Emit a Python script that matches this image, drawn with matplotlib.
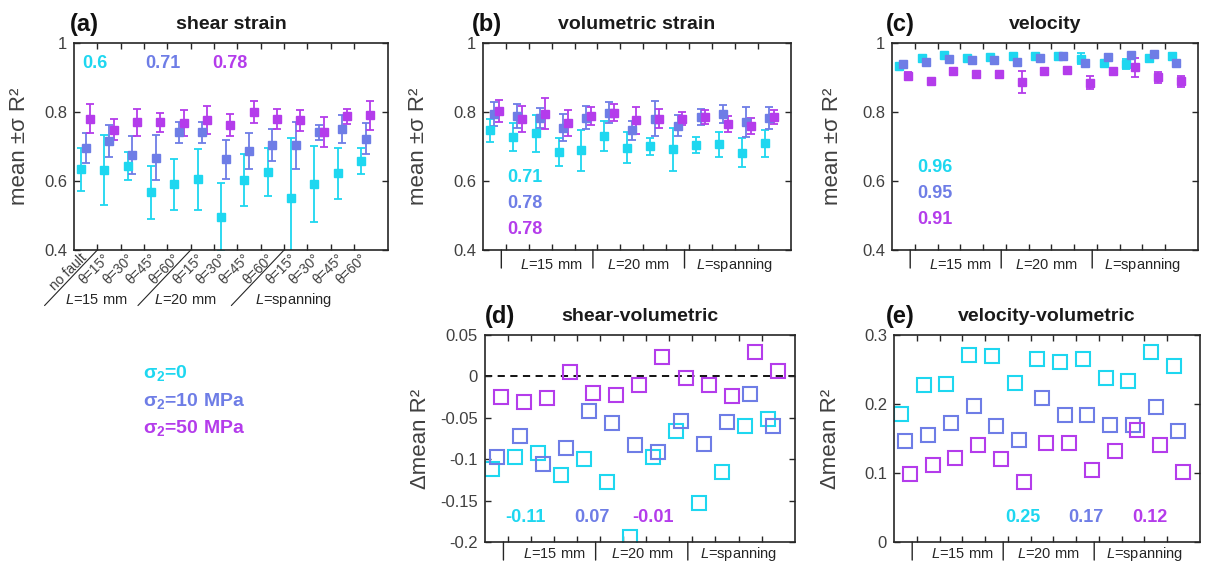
import numpy as np
import matplotlib
matplotlib.use("Agg")
from matplotlib import pyplot as plt
from matplotlib.ticker import FixedLocator, FuncFormatter

plt.rcParams["font.family"] = ["Liberation Sans", "DejaVu Sans"]
plt.rcParams["mathtext.fontset"] = "custom"
plt.rcParams["mathtext.rm"] = "Liberation Sans"
plt.rcParams["mathtext.it"] = "Liberation Sans:italic"
plt.rcParams["mathtext.bf"] = "Liberation Sans:bold"

CYAN = "#1ed7f0"
BLUE = "#6e7de6"
MAGENTA = "#b43ceb"
COLORS = [CYAN, BLUE, MAGENTA]
DARK = "#262626"
GRAY = "#404040"

# categories along x
categories = ["no fault",
              "θ=15°", "θ=30°", "θ=45°", "θ=60°",
              "θ=15°", "θ=30°", "θ=45°", "θ=60°",
              "θ=15°", "θ=30°", "θ=45°", "θ=60°"]
groups = [r"$\mathit{L}$=15 mm", r"$\mathit{L}$=20 mm", r"$\mathit{L}$=spanning"]
stress_labels = [r"$\mathbf{\sigma_2}$=0", r"$\mathbf{\sigma_2}$=10 MPa", r"$\mathbf{\sigma_2}$=50 MPa"]

# (a) shear strain, mean and std of R^2
shear_c = [0.634, 0.632, 0.644, 0.567, 0.591, 0.605, 0.496, 0.603, 0.627, 0.551, 0.590, 0.622, 0.658]
shear_c_err = [0.063, 0.102, 0.041, 0.077, 0.074, 0.088, 0.099, 0.076, 0.070, 0.174, 0.110, 0.073, 0.039]
shear_b = [0.696, 0.716, 0.675, 0.668, 0.741, 0.741, 0.663, 0.687, 0.705, 0.703, 0.741, 0.750, 0.723]
shear_b_err = [0.043, 0.046, 0.055, 0.065, 0.031, 0.030, 0.057, 0.052, 0.046, 0.067, 0.021, 0.040, 0.046]
shear_m = [0.781, 0.749, 0.770, 0.770, 0.767, 0.777, 0.763, 0.800, 0.780, 0.776, 0.742, 0.787, 0.791]
shear_m_err = [0.043, 0.030, 0.039, 0.028, 0.038, 0.041, 0.032, 0.031, 0.029, 0.031, 0.044, 0.022, 0.042]
shear_avg = ["0.6", "0.71", "0.78"]

# (b) volumetric strain
vol_c = [0.747, 0.728, 0.738, 0.684, 0.689, 0.730, 0.696, 0.701, 0.692, 0.704, 0.706, 0.682, 0.709]
vol_c_err = [0.033, 0.041, 0.053, 0.041, 0.059, 0.043, 0.045, 0.025, 0.062, 0.024, 0.037, 0.042, 0.040]
vol_b = [0.794, 0.789, 0.784, 0.755, 0.784, 0.798, 0.747, 0.781, 0.760, 0.786, 0.795, 0.771, 0.783]
vol_b_err = [0.034, 0.035, 0.029, 0.040, 0.034, 0.030, 0.028, 0.050, 0.030, 0.023, 0.026, 0.044, 0.032]
vol_m = [0.803, 0.779, 0.795, 0.767, 0.788, 0.798, 0.776, 0.781, 0.781, 0.786, 0.765, 0.759, 0.786]
vol_m_err = [0.032, 0.037, 0.045, 0.038, 0.027, 0.025, 0.039, 0.027, 0.020, 0.021, 0.024, 0.023, 0.021]
vol_avg = ["0.71", "0.78", "0.78"]

# (c) velocity
vel_c = [0.933, 0.956, 0.966, 0.957, 0.960, 0.962, 0.962, 0.962, 0.955, 0.942, 0.940, 0.956, 0.962]
vel_c_err = [0.006, 0.005, 0.004, 0.006, 0.004, 0.004, 0.004, 0.003, 0.017, 0.006, 0.014, 0.006, 0.003]
vel_b = [0.940, 0.944, 0.955, 0.952, 0.952, 0.946, 0.956, 0.962, 0.942, 0.958, 0.964, 0.968, 0.942]
vel_b_err = [0.006, 0.004, 0.004, 0.008, 0.004, 0.004, 0.003, 0.003, 0.004, 0.004, 0.003, 0.004, 0.006]
vel_m = [0.905, 0.890, 0.920, 0.909, 0.909, 0.887, 0.919, 0.922, 0.885, 0.918, 0.929, 0.900, 0.889]
vel_m_err = [0.010, 0.006, 0.008, 0.005, 0.010, 0.032, 0.006, 0.008, 0.018, 0.006, 0.027, 0.017, 0.016]
vel_avg = ["0.96", "0.95", "0.91"]

# (d) shear - volumetric difference of mean R^2
sv_c = [-0.112, -0.097, -0.093, -0.119, -0.100, -0.127, -0.194, -0.097, -0.066, -0.153, -0.116, -0.060, -0.051]
sv_b = [-0.097, -0.072, -0.106, -0.086, -0.042, -0.056, -0.083, -0.091, -0.054, -0.082, -0.055, -0.021, -0.060]
sv_m = [-0.025, -0.031, -0.026, 0.005, -0.020, -0.023, -0.010, 0.023, -0.002, -0.010, -0.024, 0.029, 0.006]
sv_avg = ["-0.11", "0.07", "-0.01"]

# (e) velocity - volumetric
vv_c = [0.185, 0.227, 0.229, 0.271, 0.270, 0.230, 0.265, 0.261, 0.265, 0.237, 0.233, 0.275, 0.255]
vv_b = [0.146, 0.155, 0.173, 0.197, 0.168, 0.148, 0.209, 0.184, 0.184, 0.170, 0.169, 0.196, 0.161]
vv_m = [0.098, 0.111, 0.122, 0.141, 0.121, 0.087, 0.144, 0.143, 0.104, 0.132, 0.162, 0.141, 0.102]
vv_avg = ["0.25", "0.17", "0.12"]

W, H = 1207, 564
fig = plt.figure(figsize=(W / 100, H / 100), dpi=100)

x = np.arange(len(categories))
offsets = [0.3, 0.5, 0.7]


def make_axes(left, right, top, bottom):
    return fig.add_axes([left / W, 1 - bottom / H, (right - left) / W, (bottom - top) / H])


def fmt(v, pos):
    if abs(v) < 1e-9:
        return "0"
    return "%g" % round(v, 3)


def setup(ax, ylim, yticks, ylabel, label_x, title, letter, letter_x):
    ax.set_xlim(0, 13.45)
    ax.set_ylim(*ylim)
    ax.xaxis.set_major_locator(FixedLocator(range(1, 13)))
    ax.set_xticklabels([])
    ax.yaxis.set_major_locator(FixedLocator(yticks))
    ax.yaxis.set_major_formatter(FuncFormatter(fmt))
    ax.tick_params(direction="in", top=True, right=True, length=4, width=1.0,
                   color=DARK, labelsize=12, labelcolor=GRAY, pad=5)
    for sp in ax.spines.values():
        sp.set_linewidth(1.2)
        sp.set_color(DARK)
    ax.set_ylabel(ylabel, fontsize=16, color=GRAY, va="center")
    ax.yaxis.set_label_coords(label_x, 0.5)
    ax.text(0.5, 1.09, title, transform=ax.transAxes, ha="center", va="center",
            fontsize=14, fontweight="bold", color="#1a1a1a")
    ax.text(letter_x, 1.09, letter, transform=ax.transAxes, ha="left", va="center",
            fontsize=17, fontweight="bold", color="#111111")


def group_marks(ax, label_y):
    tr = ax.get_xaxis_transform()
    for xv in [0.8, 4.8, 8.8]:
        ax.annotate("", xy=(xv, 0), xycoords=tr, xytext=(0, -13), textcoords="offset points",
                    arrowprops=dict(arrowstyle="-", color=DARK, lw=1.0, shrinkA=0, shrinkB=0),
                    annotation_clip=False)
    for xv, g in zip([3.0, 6.8, 11.0], groups):
        ax.text(xv, label_y, g, transform=tr, ha="center", va="center", fontsize=10.5, color=DARK)


def errbars(ax, means, errs):
    for off, m, e, c in zip(offsets, means, errs, COLORS):
        ax.errorbar(x + off, m, yerr=e, fmt="s", ms=5.5, color=c, mec=c, mfc=c,
                    elinewidth=1.3, capsize=2.6, capthick=1.3)


def squares(ax, series):
    for off, s, c in zip(offsets, series, COLORS):
        ax.plot(x + off, s, "s", ms=10, mfc="none", mec=c, mew=1.5, ls="none")


# (a)
ax_a = make_axes(74, 388, 43, 250)
errbars(ax_a, [shear_c, shear_b, shear_m], [shear_c_err, shear_b_err, shear_m_err])
setup(ax_a, (0.4, 1.0), [0.4, 0.6, 0.8, 1.0], "mean ±σ R²", -0.175, "shear strain", "(a)", -0.013)
for xv, s, c in zip([0.9, 3.81, 6.68], shear_avg, COLORS):
    ax_a.text(xv, 0.941, s, color=c, fontsize=13, fontweight="bold", ha="center", va="center")
tr_a = ax_a.get_xaxis_transform()
for k, lab in enumerate(categories):
    ax_a.text(k + 0.45, -0.03, lab, transform=tr_a, rotation=45, rotation_mode="anchor",
              ha="right", va="center", fontsize=10, color=GRAY)
for xv in [1, 5, 9]:
    ax_a.annotate("", xy=(xv, 0), xycoords=tr_a, xytext=(-38, -40), textcoords="offset points",
                  arrowprops=dict(arrowstyle="-", color=DARK, lw=0.8, shrinkA=0, shrinkB=0),
                  annotation_clip=False)
for xv, g in zip([0.97, 4.78, 9.39], groups):
    ax_a.text(xv, -0.24, g, transform=tr_a, ha="center", va="center", fontsize=10.5, color=DARK)

# (b)
ax_b = make_axes(483, 791, 43, 250)
errbars(ax_b, [vol_c, vol_b, vol_m], [vol_c_err, vol_b_err, vol_m_err])
setup(ax_b, (0.4, 1.0), [0.4, 0.6, 0.8, 1.0], "mean ±σ R²", -0.208, "volumetric strain", "(b)", -0.036)
for yv, s, c in zip([0.611, 0.536, 0.458], vol_avg, COLORS):
    ax_b.text(1.82, yv, s, color=c, fontsize=13, fontweight="bold", ha="center", va="center")
group_marks(ax_b, -0.072)

# (c)
ax_c = make_axes(892, 1198, 43, 250)
errbars(ax_c, [vel_c, vel_b, vel_m], [vel_c_err, vel_b_err, vel_m_err])
setup(ax_c, (0.4, 1.0), [0.4, 0.6, 0.8, 1.0], "mean ±σ R²", -0.196, "velocity", "(c)", -0.02)
for yv, s, c in zip([0.640, 0.565, 0.487], vel_avg, COLORS):
    ax_c.text(1.89, yv, s, color=c, fontsize=13, fontweight="bold", ha="center", va="center")
group_marks(ax_c, -0.072)

# (d)
ax_d = make_axes(485, 795, 335, 542)
ax_d.axhline(0, color="k", ls=(0, (4, 3)), lw=1.3, zorder=1)
squares(ax_d, [sv_c, sv_b, sv_m])
setup(ax_d, (-0.2, 0.05), [-0.2, -0.15, -0.1, -0.05, 0, 0.05], "Δmean R²", -0.207,
      "shear-volumetric", "(d)", 0.0)
for xv, s, c in zip([1.74, 4.65, 7.3], sv_avg, COLORS):
    ax_d.text(xv, -0.170, s, color=c, fontsize=13, fontweight="bold", ha="center", va="center")
group_marks(ax_d, -0.058)

# (e)
ax_e = make_axes(894, 1200, 335, 542)
squares(ax_e, [vv_c, vv_b, vv_m])
setup(ax_e, (0, 0.3), [0, 0.1, 0.2, 0.3], "Δmean R²", -0.208, "velocity-volumetric", "(e)", -0.027)
for xv, s, c in zip([5.68, 8.42, 11.25], vv_avg, COLORS):
    ax_e.text(xv, 0.036, s, color=c, fontsize=13, fontweight="bold", ha="center", va="center")
group_marks(ax_e, -0.058)

# stress legend
for yp, s, c in zip([373, 401, 428], stress_labels, COLORS):
    fig.text(143 / W, 1 - yp / H, s, color=c, fontsize=14, fontweight="bold", ha="left", va="center")

fig.savefig("out.png", dpi=100)
